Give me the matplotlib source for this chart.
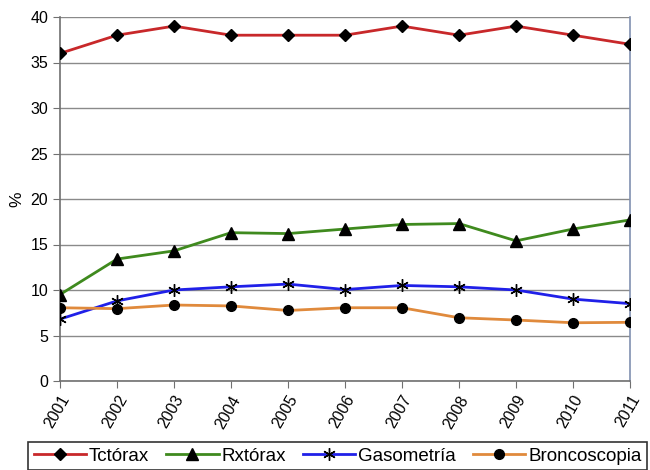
import matplotlib
matplotlib.use("Agg")
import matplotlib.pyplot as plt

plt.rcParams["font.family"] = ["Liberation Sans", "DejaVu Sans"]

YEARS = [2001, 2002, 2003, 2004, 2005, 2006, 2007, 2008, 2009, 2010, 2011]
TCTORAX = [36, 38, 39, 38, 38, 38, 39, 38, 39, 38, 37]
RXTORAX = [9.5, 13.4, 14.3, 16.3, 16.2, 16.7, 17.2, 17.3, 15.4, 16.7, 17.7]
GASOMETRIA = [6.8, 8.8, 10.0, 10.35, 10.65, 10.05, 10.5, 10.35, 10.0, 9.0, 8.5]
BRONCOSCOPIA = [8.05, 7.95, 8.35, 8.25, 7.75, 8.05, 8.05, 6.95, 6.7, 6.4, 6.45]

SERIES = [
    ("Tctórax", TCTORAX, "#c8282a", "D", 6),
    ("Rxtórax", RXTORAX, "#3f8a1e", "^", 8),
    ("Gasometría", GASOMETRIA, "#2020e8", (6, 2, 0), 9),
    ("Broncoscopia", BRONCOSCOPIA, "#e08a3c", "o", 7),
]

fig = plt.figure(figsize=(6.5, 4.7), dpi=100)
ax = fig.add_axes([60 / 650, 1 - 381 / 470, 570 / 650, 364 / 470])

for label, vals, color, marker, ms in SERIES:
    ax.plot(YEARS, vals, color=color, lw=2.0, marker=marker, ms=ms,
            mfc="black", mec="black", mew=1.0, label=label, zorder=3)

ax.set_xlim(YEARS[0], YEARS[-1])
ax.set_ylim(0, 40)
ax.set_yticks(range(0, 41, 5))
ax.set_xticks(YEARS)
ax.set_xticklabels([str(y) for y in YEARS], rotation=60, ha="right",
                   rotation_mode="anchor", fontsize=11.5)
ax.tick_params(axis="y", labelsize=11.5, length=5, color="#707070")
ax.tick_params(axis="x", length=5, color="#707070")
ax.grid(axis="y", color="#8a8a8a", lw=1.0)
ax.set_axisbelow(True)
for s in ["left", "bottom"]:
    ax.spines[s].set_color("#707070")
    ax.spines[s].set_linewidth(1.2)
ax.spines["top"].set_visible(False)
ax.spines["right"].set_color("#8090b0")
ax.spines["right"].set_linewidth(1.2)
ax.set_ylabel("%", fontsize=12.5, labelpad=4)

leg = fig.legend(loc="upper left", bbox_to_anchor=(28 / 650, 1 - 442 / 470),
                 ncol=4, fontsize=13.5, frameon=True, fancybox=False,
                 edgecolor="black", handlelength=2.8, handletextpad=0.15,
                 columnspacing=0.9, borderpad=0.3, borderaxespad=0)
leg.get_frame().set_linewidth(1.2)

fig.savefig("out.png", dpi=100)
